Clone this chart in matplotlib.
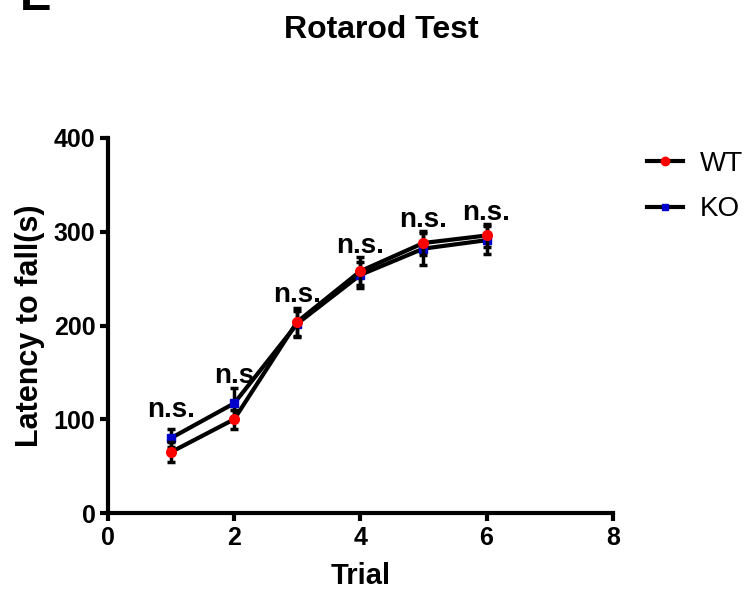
import matplotlib
matplotlib.use('Agg')
import matplotlib.pyplot as plt
from matplotlib.lines import Line2D

plt.rcParams['font.family'] = ['Liberation Sans', 'DejaVu Sans']

trials = [1, 2, 3, 4, 5, 6]
wt_mean = [65, 100, 204, 258, 288, 296]
wt_err = [11, 10, 15, 15, 13, 12]
ko_mean = [80, 117, 202, 254, 282, 291]
ko_err = [10, 16, 14, 14, 17, 15]
sig_labels = ['n.s.', 'n.s', 'n.s.', 'n.s.', 'n.s.', 'n.s.']
sig_y = [102, 139, 225, 277, 305, 313]

fig = plt.figure(figsize=(7.5, 6.01), dpi=100)
ax = fig.add_axes([0.144, 0.1464, 0.673, 0.624])

ax.errorbar(trials, ko_mean, yerr=ko_err, color='black', lw=3, ecolor='black',
            elinewidth=2.5, capsize=3, capthick=2.5, marker='s', ms=6,
            mfc='#0000cc', mec='#0000cc', zorder=2)
ax.errorbar(trials, wt_mean, yerr=wt_err, color='black', lw=3, ecolor='black',
            elinewidth=2.5, capsize=3, capthick=2.5, marker='o', ms=7,
            mfc='red', mec='red', zorder=3)

for t, lab, yy in zip(trials, sig_labels, sig_y):
    ax.text(t, yy, lab, ha='center', va='baseline', fontsize=20, fontweight='bold')

ax.set_xlim(0, 8)
ax.set_ylim(0, 400)
ax.set_xticks([0, 2, 4, 6, 8])
ax.set_yticks([0, 100, 200, 300, 400])
for s in ['top', 'right']:
    ax.spines[s].set_visible(False)
for s in ['left', 'bottom']:
    ax.spines[s].set_linewidth(3)
ax.tick_params(width=3, length=6, pad=3, labelsize=18)
for lbl in ax.get_xticklabels() + ax.get_yticklabels():
    lbl.set_fontweight('bold')
ax.set_xlabel('Trial', fontsize=21, fontweight='bold', labelpad=9)
ax.set_ylabel('Latency to fall(s)', fontsize=22, fontweight='bold', labelpad=6)

handles = [Line2D([], [], color='black', lw=3, marker='o', ms=6, mfc='red', mec='red'),
           Line2D([], [], color='black', lw=3, marker='s', ms=5, mfc='#0000cc', mec='#0000cc')]
fig.legend(handles, ['WT', 'KO'], loc='upper left', bbox_to_anchor=(647 / 750, 1 - 151 / 601),
           frameon=False, fontsize=20, handlelength=1.3, handletextpad=0.6,
           labelspacing=0.7, borderpad=0, borderaxespad=0)

fig.suptitle('Rotarod Test', x=0.509, y=0.975, fontsize=23, fontweight='bold')
fig.text(0.026, 1 - 10 / 601, 'E', fontsize=34, fontweight='bold', va='baseline')

fig.savefig('out.png', dpi=100)
